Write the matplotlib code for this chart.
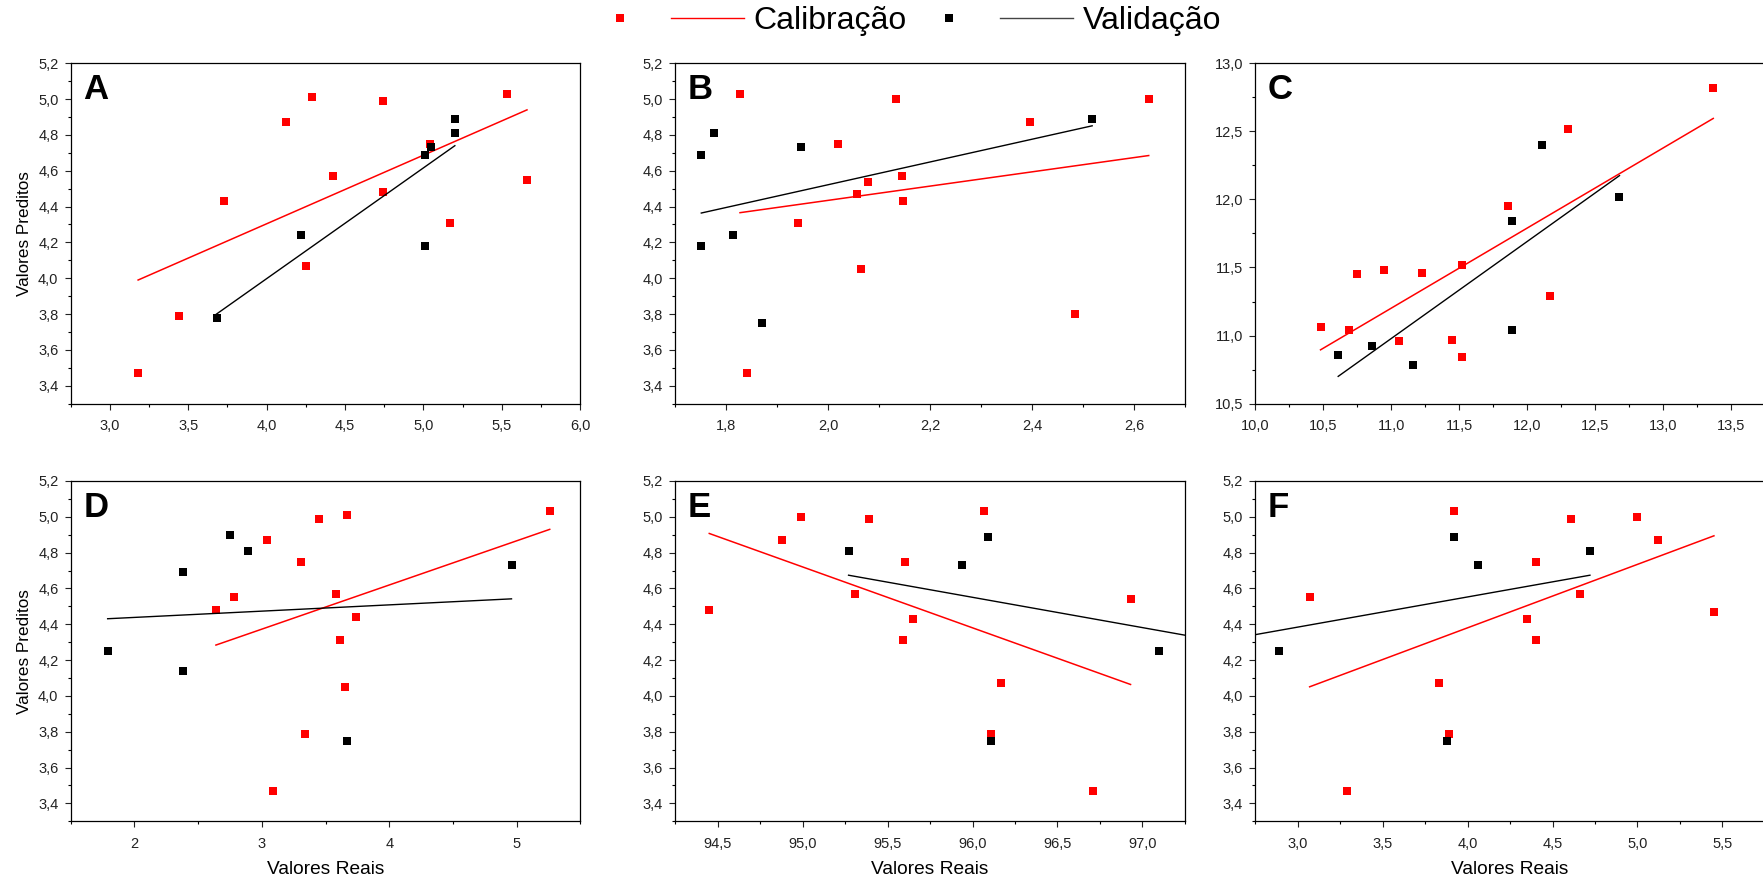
import matplotlib
matplotlib.use("Agg")
import matplotlib.pyplot as plt
from matplotlib.lines import Line2D
from matplotlib.ticker import MultipleLocator, FuncFormatter

plt.rcParams["font.family"] = ["Liberation Sans", "DejaVu Sans"]

# ==============================
# DATA
# ==============================
A_cal_x = [3.18, 3.44, 3.73, 4.12, 4.29, 4.25, 4.42, 4.74, 4.74, 5.04, 5.17, 5.53, 5.66]
A_cal_y = [3.47, 3.79, 4.43, 4.87, 5.01, 4.07, 4.57, 4.99, 4.48, 4.75, 4.31, 5.03, 4.55]
A_val_x = [5.20, 5.20, 5.05, 5.01, 4.22, 5.01, 3.68]
A_val_y = [4.89, 4.81, 4.73, 4.69, 4.24, 4.18, 3.78]
A_cal_fit_x = [3.18, 5.66]
A_cal_fit_y = [3.99, 4.94]
A_val_fit_x = [3.68, 5.20]
A_val_fit_y = [3.80, 4.74]

B_cal_x = [1.826, 1.841, 1.941, 2.020, 2.057, 2.079, 2.065, 2.133, 2.145, 2.146, 2.397, 2.484, 2.629]
B_cal_y = [5.03, 3.47, 4.31, 4.75, 4.47, 4.54, 4.05, 5.00, 4.57, 4.43, 4.87, 3.80, 5.00]
B_val_x = [1.751, 1.776, 1.947, 2.518, 1.751, 1.814, 1.871]
B_val_y = [4.69, 4.81, 4.73, 4.89, 4.18, 4.24, 3.75]
B_cal_fit_x = [1.827, 2.629]
B_cal_fit_y = [4.366, 4.685]
B_val_fit_x = [1.751, 2.518]
B_val_fit_y = [4.364, 4.851]

C_cal_x = [10.48, 10.69, 10.75, 10.95, 11.06, 11.23, 11.45, 11.52, 11.52, 11.86, 12.17, 12.30, 13.37]
C_cal_y = [11.06, 11.04, 11.45, 11.48, 10.96, 11.46, 10.97, 11.52, 10.84, 11.95, 11.29, 12.52, 12.82]
C_val_x = [10.61, 10.86, 11.16, 11.89, 11.89, 12.11, 12.68]
C_val_y = [10.86, 10.92, 10.78, 11.84, 11.04, 12.40, 12.02]
C_cal_fit_x = [10.48, 13.37]
C_cal_fit_y = [10.895, 12.595]
C_val_fit_x = [10.61, 12.68]
C_val_fit_y = [10.70, 12.175]

D_cal_x = [2.64, 2.78, 3.04, 3.09, 3.31, 3.34, 3.45, 3.58, 3.61, 3.65, 3.67, 3.74, 5.26]
D_cal_y = [4.48, 4.55, 4.87, 3.47, 4.75, 3.79, 4.99, 4.57, 4.31, 4.05, 5.01, 4.44, 5.03]
D_val_x = [1.79, 2.38, 2.38, 2.75, 2.89, 3.67, 4.96]
D_val_y = [4.25, 4.69, 4.14, 4.90, 4.81, 3.75, 4.73]
D_cal_fit_x = [2.64, 5.26]
D_cal_fit_y = [4.284, 4.93]
D_val_fit_x = [1.79, 4.96]
D_val_fit_y = [4.431, 4.542]

E_cal_x = [94.45, 94.88, 94.99, 95.31, 95.39, 95.59, 95.60, 95.65, 96.07, 96.11, 96.17, 96.71, 96.93]
E_cal_y = [4.48, 4.87, 5.00, 4.57, 4.99, 4.31, 4.75, 4.43, 5.03, 3.79, 4.07, 3.47, 4.54]
E_val_x = [95.27, 95.94, 96.09, 96.11, 97.10]
E_val_y = [4.81, 4.73, 4.89, 3.75, 4.25]
E_cal_fit_x = [94.45, 96.93]
E_cal_fit_y = [4.907, 4.064]
E_val_fit_x = [95.27, 97.6]
E_val_fit_y = [4.674, 4.28]

F_cal_x = [3.07, 3.29, 3.83, 3.89, 3.92, 4.35, 4.40, 4.40, 4.61, 4.66, 5.00, 5.12, 5.45]
F_cal_y = [4.55, 3.47, 4.07, 3.79, 5.03, 4.43, 4.75, 4.31, 4.99, 4.57, 5.00, 4.87, 4.47]
F_val_x = [2.89, 3.88, 3.92, 4.06, 4.72]
F_val_y = [4.25, 3.75, 4.89, 4.73, 4.81]
F_cal_fit_x = [3.07, 5.45]
F_cal_fit_y = [4.051, 4.894]
F_val_fit_x = [2.5, 4.72]
F_val_fit_y = [4.30, 4.674]

panel_letters = ["A", "B", "C", "D", "E", "F"]
legend_labels = ["Calibração", "Validação"]
xlabel_text = "Valores Reais"
ylabel_text = "Valores Preditos"

# ==============================
# LAYOUT
# ==============================
W, H = 1763, 881
col_left = [70.7, 675.3, 1255.3]
row_top = [63.3, 481.0]
ax_w, ax_h = 509.6, 340.3

# xlim, x major, x minor, ylim, y major, y minor, integer x labels
axis_cfg = [
    ((2.75, 6.0), 0.5, 0.25, (3.3, 5.2), 0.2, 0.1, False),
    ((1.7, 2.7), 0.2, 0.1, (3.3, 5.2), 0.2, 0.1, False),
    ((10.0, 13.75), 0.5, 0.25, (10.5, 13.0), 0.5, 0.25, False),
    ((1.5, 5.5), 1.0, 0.5, (3.3, 5.2), 0.2, 0.1, True),
    ((94.25, 97.25), 0.5, 0.25, (3.3, 5.2), 0.2, 0.1, False),
    ((2.75, 5.75), 0.5, 0.25, (3.3, 5.2), 0.2, 0.1, False),
]

data = [
    (A_cal_x, A_cal_y, A_val_x, A_val_y, A_cal_fit_x, A_cal_fit_y, A_val_fit_x, A_val_fit_y),
    (B_cal_x, B_cal_y, B_val_x, B_val_y, B_cal_fit_x, B_cal_fit_y, B_val_fit_x, B_val_fit_y),
    (C_cal_x, C_cal_y, C_val_x, C_val_y, C_cal_fit_x, C_cal_fit_y, C_val_fit_x, C_val_fit_y),
    (D_cal_x, D_cal_y, D_val_x, D_val_y, D_cal_fit_x, D_cal_fit_y, D_val_fit_x, D_val_fit_y),
    (E_cal_x, E_cal_y, E_val_x, E_val_y, E_cal_fit_x, E_cal_fit_y, E_val_fit_x, E_val_fit_y),
    (F_cal_x, F_cal_y, F_val_x, F_val_y, F_cal_fit_x, F_cal_fit_y, F_val_fit_x, F_val_fit_y),
]

RED = "#ff0000"
BLACK = "#000000"
MS = 5.6

comma1 = FuncFormatter(lambda v, p: f"{v:.1f}".replace(".", ","))
intfmt = FuncFormatter(lambda v, p: f"{v:.0f}")

fig = plt.figure(figsize=(W / 100, H / 100), dpi=100)

for i in range(6):
    r, c = divmod(i, 3)
    rect = [col_left[c] / W, 1 - (row_top[r] + ax_h) / H, ax_w / W, ax_h / H]
    ax = fig.add_axes(rect)
    cx, cy, vx, vy, cfx, cfy, vfx, vfy = data[i]
    xlim, xmaj, xmin, ylim, ymaj, ymin, int_x = axis_cfg[i]

    ax.plot(cfx, cfy, color=RED, lw=1.1)
    ax.plot(cx, cy, "s", color=RED, ms=MS, mew=0)
    ax.plot(vfx, vfy, color=BLACK, lw=1.0)
    ax.plot(vx, vy, "s", color=BLACK, ms=MS, mew=0)

    ax.set_xlim(xlim)
    ax.set_ylim(ylim)
    ax.xaxis.set_major_locator(MultipleLocator(xmaj))
    ax.xaxis.set_minor_locator(MultipleLocator(xmin))
    ax.yaxis.set_major_locator(MultipleLocator(ymaj))
    ax.yaxis.set_minor_locator(MultipleLocator(ymin))
    ax.xaxis.set_major_formatter(intfmt if int_x else comma1)
    ax.yaxis.set_major_formatter(comma1)

    ax.tick_params(which="major", direction="out", length=4.3, width=0.8,
                   labelsize=10.5, colors="#222222")
    ax.tick_params(which="minor", direction="out", length=2.2, width=0.8)
    ax.tick_params(axis="x", which="major", pad=7)
    ax.tick_params(axis="y", which="major", pad=4.5)
    for s in ax.spines.values():
        s.set_linewidth(0.9)

    ax.text(0.025, 0.972, panel_letters[i], transform=ax.transAxes,
            fontsize=25, fontweight="bold", ha="left", va="top")

    if c == 0:
        ax.set_ylabel(ylabel_text, fontsize=12.3)
        ax.yaxis.set_label_coords(-0.075, 0.5)
    if r == 1:
        ax.set_xlabel(xlabel_text, fontsize=13.8)
        ax.xaxis.set_label_coords(0.5, -0.118)

# ==============================
# LEGEND (marker and line shown apart)
# ==============================
handles = [
    Line2D([], [], ls="none", marker="s", color=RED, ms=MS, mew=0),
    Line2D([], [], color=RED, lw=1.0),
    Line2D([], [], ls="none", marker="s", color=BLACK, ms=MS, mew=0),
    Line2D([], [], color="#444444", lw=1.0),
]
labels = ["", legend_labels[0], "", legend_labels[1]]
fig.legend(handles, labels, loc="center", bbox_to_anchor=(902 / W, 1 - 21 / H),
           ncol=4, frameon=False, fontsize=23, handlelength=2.3,
           handletextpad=0.3, columnspacing=0.15, borderpad=0)

fig.savefig("out.png", dpi=100)
